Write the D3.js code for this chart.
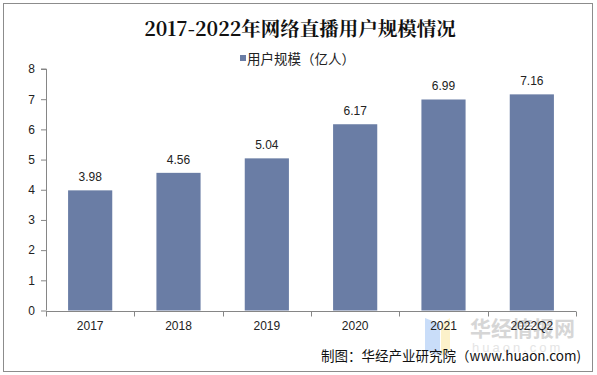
<!DOCTYPE html>
<html><head><meta charset="utf-8">
<script src="https://cdn.jsdelivr.net/npm/d3@7"></script>
<style>body{margin:0;background:#fff}svg{display:block}</style>
</head><body>
<script>
const categories = ["2017","2018","2019","2020","2021","2022Q2"];
const values = [3.98,4.56,5.04,6.17,6.99,7.16];
const yTicks = [0,1,2,3,4,5,6,7,8];
const seriesName = "用户规模（亿人）";
const titleText = "2017-2022年网络直播用户规模情况";
const sourceText = "制图：华经产业研究院（www.huaon.com)";

const W=597,H=375;
const svg=d3.select("body").append("svg").attr("width",W).attr("height",H);
svg.append("rect").attr("x",3.5).attr("y",3.5).attr("width",589).attr("height",368)
  .attr("fill","#fff").attr("stroke","#8c8c8c");

const x0=46,x1=576;
const x=d3.scaleBand().domain(categories).range([x0,x1]).paddingInner(0.5).paddingOuter(0.25);
const y=d3.scaleLinear().domain([0,8]).range([310.5,69]);
const sans="'Liberation Sans', Arial, 'Noto Sans CJK SC', sans-serif";

svg.append("text").attr("x",300).attr("y",36).attr("text-anchor","middle")
  .attr("font-family","'Noto Serif CJK SC','DejaVu Serif','Liberation Serif','Noto Sans CJK SC',serif")
  .attr("font-weight","bold").attr("font-size",19.5).attr("fill","#111").text(titleText);

// legend
svg.append("rect").attr("x",240).attr("y",55).attr("width",6).attr("height",6).attr("fill","#6a7da5");
svg.append("text").attr("x",247).attr("y",64).attr("font-family","'Noto Sans CJK SC',sans-serif")
  .attr("font-size",13.5).attr("fill","#222").text(seriesName);

// watermark
const wm=svg.append("g").attr("opacity",0.55);
wm.append("path").attr("d","M425,318 L440,324 L440,356 L425,350 Z").attr("fill","#9ec3f5");
wm.append("path").attr("d","M441,324 L450,318 L450,350 L441,356 Z").attr("fill","#fbe7a0");
wm.append("text").attr("x",470).attr("y",336).attr("font-family","'Noto Sans CJK SC',sans-serif")
  .attr("font-weight","bold").attr("font-size",21).attr("fill","#b5b5b5").text("华经情报网");
wm.append("text").attr("x",472).attr("y",352).attr("font-family",sans)
  .attr("font-size",13).attr("letter-spacing",3).attr("fill","#cfcfcf").text("huaon.com");

// bars
svg.selectAll("rect.bar").data(values).enter().append("rect").attr("class","bar")
  .attr("x",(d,i)=>x(categories[i])).attr("width",x.bandwidth())
  .attr("y",d=>y(d)).attr("height",d=>y(0)-y(d)).attr("fill","#6a7da5");
svg.selectAll("text.val").data(values).enter().append("text").attr("class","val")
  .attr("x",(d,i)=>x(categories[i])+x.bandwidth()/2).attr("y",d=>y(d)-9)
  .attr("text-anchor","middle").attr("font-family",sans).attr("font-size",12).attr("fill","#222")
  .text(d=>d.toFixed(2));

// y axis
const ya=svg.append("g").attr("transform",`translate(${x0},0)`)
  .call(d3.axisLeft(y).tickValues(yTicks).tickSize(5).tickFormat(d3.format("d")));
ya.select(".domain").attr("stroke","#868686").attr("d",`M-5,${y(8)}H0.5V${y(0)}`);
ya.selectAll(".tick line").attr("stroke","#868686");
ya.selectAll(".tick text").attr("font-family",sans).attr("font-size",12).attr("fill","#222").attr("x",-11);

// x axis
const xa=svg.append("g").attr("transform",`translate(0,${Math.round(y(0))+0.5})`);
xa.append("line").attr("x1",x0).attr("x2",x1).attr("stroke","#868686");
const bounds=d3.range(categories.length+1).map(i=>x0+i*((x1-x0)/categories.length));
xa.selectAll("line.t").data(bounds).enter().append("line").attr("class","t")
  .attr("x1",d=>Math.round(d)+0.5).attr("x2",d=>Math.round(d)+0.5).attr("y1",0).attr("y2",5).attr("stroke","#868686");
xa.selectAll("text").data(categories).enter().append("text")
  .attr("x",d=>x(d)+x.bandwidth()/2).attr("y",18).attr("text-anchor","middle")
  .attr("font-family",sans).attr("font-size",12).attr("fill","#222").text(d=>d);

svg.append("text").attr("x",581).attr("y",361).attr("text-anchor","end")
  .attr("font-family","'Noto Sans CJK SC',sans-serif").attr("font-size",13.5).attr("fill","#111").text(sourceText);
</script>
</body></html>
